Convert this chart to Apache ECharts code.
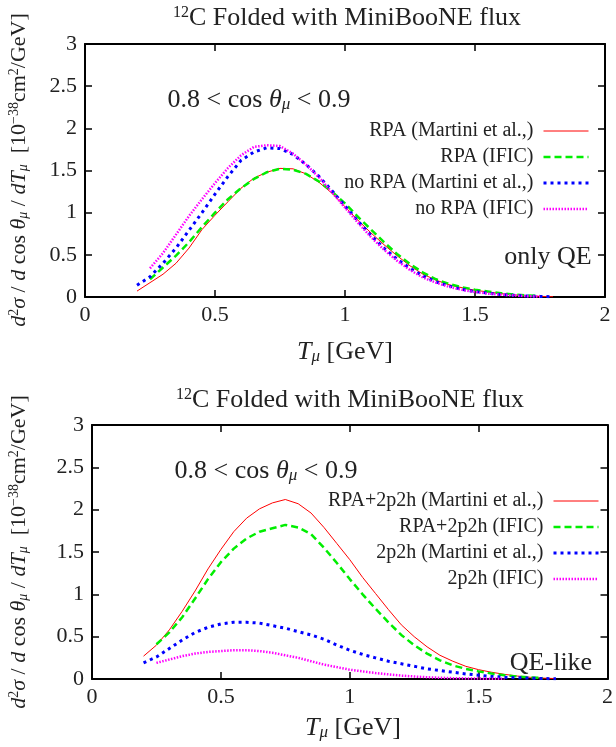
<!DOCTYPE html>
<html><head><meta charset="utf-8">
<script src="https://cdn.jsdelivr.net/npm/echarts@6/dist/echarts.min.js"></script>
<style>html,body{margin:0;padding:0;background:#fff}#c{width:616px;height:747px}</style>
</head><body><div id="c"></div>
<script>
// Shared muon kinetic energy grid [GeV]
const Tgrid = [0.20,0.25,0.30,0.35,0.40,0.45,0.50,0.55,0.60,0.65,0.70,0.75,0.80,0.85,0.90,0.95,1.00,1.05,1.10,1.15,1.20,1.25,1.30,1.35,1.40,1.45,1.50,1.55,1.60,1.65,1.70,1.75,1.80];

// Top panel: only QE
const rpaMartini   = [0.07,0.17,0.27,0.40,0.58,0.80,0.97,1.13,1.29,1.41,1.48,1.525,1.52,1.46,1.36,1.23,1.07,0.91,0.76,0.62,0.49,0.37,0.27,0.20,0.145,0.11,0.08,0.06,0.04,0.025,0.015,0.008,0.003];
const rpaIFIC      = [null,0.21,0.35,0.49,0.65,0.83,1.00,1.16,1.29,1.40,1.48,1.52,1.51,1.46,1.37,1.25,1.11,0.95,0.80,0.65,0.51,0.39,0.29,0.21,0.155,0.115,0.085,0.065,0.045,0.03,0.02,0.01,null];
const noRpaMartini = [0.14,0.24,0.40,0.58,0.79,1.00,1.22,1.43,1.62,1.72,1.77,1.76,1.69,1.57,1.43,1.26,1.08,0.90,0.73,0.58,0.45,0.34,0.25,0.18,0.13,0.09,0.065,0.045,0.03,0.02,0.012,0.006,0.003];
const noRpaIFIC    = [null,0.34,0.52,0.74,0.96,1.16,1.35,1.53,1.68,1.78,1.80,1.79,1.70,1.57,1.42,1.24,1.06,0.88,0.71,0.56,0.43,0.32,0.23,0.17,0.12,0.085,0.06,0.04,0.028,0.018,0.01,0.005,null];

// Bottom panel: QE-like
const rpa2p2hMartini = [0.27,0.40,0.58,0.80,1.04,1.30,1.53,1.74,1.90,2.01,2.08,2.12,2.07,1.96,1.79,1.60,1.41,1.20,1.01,0.82,0.64,0.50,0.38,0.28,0.21,0.15,0.11,0.08,0.055,0.035,0.02,0.01,0.005];
const rpa2p2hIFIC    = [null,0.41,0.55,0.73,0.95,1.18,1.38,1.54,1.66,1.74,1.78,1.82,1.79,1.71,1.55,1.37,1.18,1.00,0.83,0.67,0.52,0.40,0.30,0.22,0.16,0.12,0.09,0.065,0.045,0.03,0.02,0.01,null];
const np2p2hMartini  = [0.19,0.26,0.36,0.46,0.55,0.61,0.65,0.67,0.67,0.66,0.63,0.60,0.56,0.52,0.47,0.40,0.34,0.29,0.25,0.21,0.18,0.15,0.12,0.10,0.08,0.06,0.045,0.03,0.02,0.015,0.01,0.005,0.003];
const np2p2hIFIC     = [null,0.19,0.23,0.27,0.30,0.32,0.33,0.34,0.34,0.33,0.31,0.28,0.25,0.21,0.17,0.14,0.11,0.09,0.07,0.055,0.04,0.03,0.02,0.015,0.01,0.007,0.005,0.003,0.002,null,null,null,null];

const xTicks = {min:0, max:2, interval:0.5};
const yTicks = {min:0, max:3, interval:0.5};

const topNames = ['RPA (Martini et al.,)','RPA (IFIC)','no RPA (Martini et al.,)','no RPA (IFIC)'];
const botNames = ['RPA+2p2h (Martini et al.,)','RPA+2p2h (IFIC)','2p2h (Martini et al.,)','2p2h (IFIC)'];

const SERIF = '"Liberation Serif", "DejaVu Serif", serif';
const styles = [
  {color:'#ff0000', width:1, type:'solid'},
  {color:'#00ee00', width:2.5, type:[7,4]},
  {color:'#0000ff', width:3, type:[3,4]},
  {color:'#ff00ff', width:2.5, type:[1.5,1.5]}
];

function pairs(vals){ return Tgrid.map((t,i)=> vals[i]==null ? null : [t, vals[i]]).filter(p=>p); }

function mkSeries(name, vals, k, gi){
  const s = styles[k];
  return {type:'line', name:name, xAxisIndex:gi*2, yAxisIndex:gi*2, data:pairs(vals),
    showSymbol:false, symbol:'none', smooth:false, animation:false,
    lineStyle:{color:s.color, width:s.width, type:s.type}, itemStyle:{color:s.color}};
}

const grids = [
  {left:85, top:44, width:520, height:253},
  {left:92, top:425, width:521, height:254}
];

function axesFor(gi){
  const base = {axisLine:{show:true, onZero:false, lineStyle:{color:'#000', width:2}},
    axisTick:{show:true, inside:true, length:7, lineStyle:{color:'#000', width:1.5}},
    splitLine:{show:false}};
  const lbl = {color:'#222', fontFamily:SERIF, fontSize:22};
  const xs = [
    Object.assign({type:'value', gridIndex:gi, position:'bottom'}, xTicks, base, {axisLabel:Object.assign({margin:7}, lbl)}),
    Object.assign({type:'value', gridIndex:gi, position:'top'}, xTicks, base, {axisLabel:{show:false}})
  ];
  const ys = [
    Object.assign({type:'value', gridIndex:gi, position:'left'}, yTicks, base, {axisLabel:Object.assign({margin:8}, lbl)}),
    Object.assign({type:'value', gridIndex:gi, position:'right'}, yTicks, base, {axisLabel:{show:false}})
  ];
  return {xs, ys};
}
const a0 = axesFor(0), a1 = axesFor(1);

const rich = {
  n:{fontFamily:SERIF, fontSize:22, color:'#222'},
  i:{fontFamily:SERIF, fontSize:22, fontStyle:'italic', color:'#222'},
  sup:{fontFamily:SERIF, fontSize:14, color:'#222', verticalAlign:'top', padding:[0,0,9,0]},
  sub:{fontFamily:SERIF, fontSize:14, fontStyle:'italic', color:'#222', verticalAlign:'bottom', padding:[7,0,0,0]},
  t:{fontFamily:SERIF, fontSize:26, color:'#222'},
  ts:{fontFamily:SERIF, fontSize:16, color:'#222', verticalAlign:'top', padding:[0,0,11,0]},
  c:{fontFamily:SERIF, fontSize:26, color:'#222'},
  ci:{fontFamily:SERIF, fontSize:26, fontStyle:'italic', color:'#222'},
  cs:{fontFamily:SERIF, fontSize:17, fontStyle:'italic', color:'#222', verticalAlign:'bottom', padding:[9,0,0,0]}
};

function txt(x,y,text,opts){
  return Object.assign({type:'text', x:x, y:y, silent:true,
    style:{text:text, rich:rich, textAlign:'center', textVerticalAlign:'middle', fill:'#222'}}, opts||{});
}
const titleTxt = '{ts|12}{t|C Folded with MiniBooNE flux}';
const cosTxt = '{c|0.8 < cos }{ci|θ}{cs|μ}{c| < 0.9}';
const yTxt = '{i|d}{sup|2}{i|σ}{n| / }{i|d}{n| cos }{i|θ}{sub|μ}{n| / }{i|dT}{sub|μ}{n|  [10}{sup|−38}{n|cm}{sup|2}{n|/GeV]}';
const xTxt = '{ci|T}{cs|μ}{c| [GeV]}';

const graphic = [
  txt(347, 18, titleTxt),
  txt(350, 400, titleTxt),
  txt(259, 100, cosTxt),
  txt(266, 471, cosTxt),
  txt(548, 257, '{c|only QE}'),
  txt(551, 663, '{c|QE-like}'),
  txt(345, 352, xTxt),
  txt(353, 728, xTxt),
  txt(19, 170, yTxt, {rotation:Math.PI/2}),
  txt(19, 552, yTxt, {rotation:Math.PI/2})
];

const legendBase = {orient:'vertical', align:'right', itemWidth:45, itemHeight:12, itemGap:6, padding:0,
  itemStyle:{opacity:0}, lineStyle:{width:'inherit', type:'inherit'},
  textStyle:{fontFamily:SERIF, fontSize:20, lineHeight:20, color:'#222', padding:[0,5,0,0]}, selectedMode:false};

const option = {
  backgroundColor:'#fff',
  animation:false,
  grid: grids,
  xAxis: [...a0.xs, ...a1.xs],
  yAxis: [...a0.ys, ...a1.ys],
  legend: [
    Object.assign({}, legendBase, {data:topNames, right:26, top:121}),
    Object.assign({}, legendBase, {data:botNames, right:16, top:491})
  ],
  graphic: graphic,
  series: [
    mkSeries(topNames[0], rpaMartini, 0, 0),
    mkSeries(topNames[1], rpaIFIC, 1, 0),
    mkSeries(topNames[2], noRpaMartini, 2, 0),
    mkSeries(topNames[3], noRpaIFIC, 3, 0),
    mkSeries(botNames[0], rpa2p2hMartini, 0, 1),
    mkSeries(botNames[1], rpa2p2hIFIC, 1, 1),
    mkSeries(botNames[2], np2p2hMartini, 2, 1),
    mkSeries(botNames[3], np2p2hIFIC, 3, 1)
  ]
};
const chart = echarts.init(document.getElementById('c'), null, {renderer:'canvas'});
chart.setOption(option);
</script></body></html>
